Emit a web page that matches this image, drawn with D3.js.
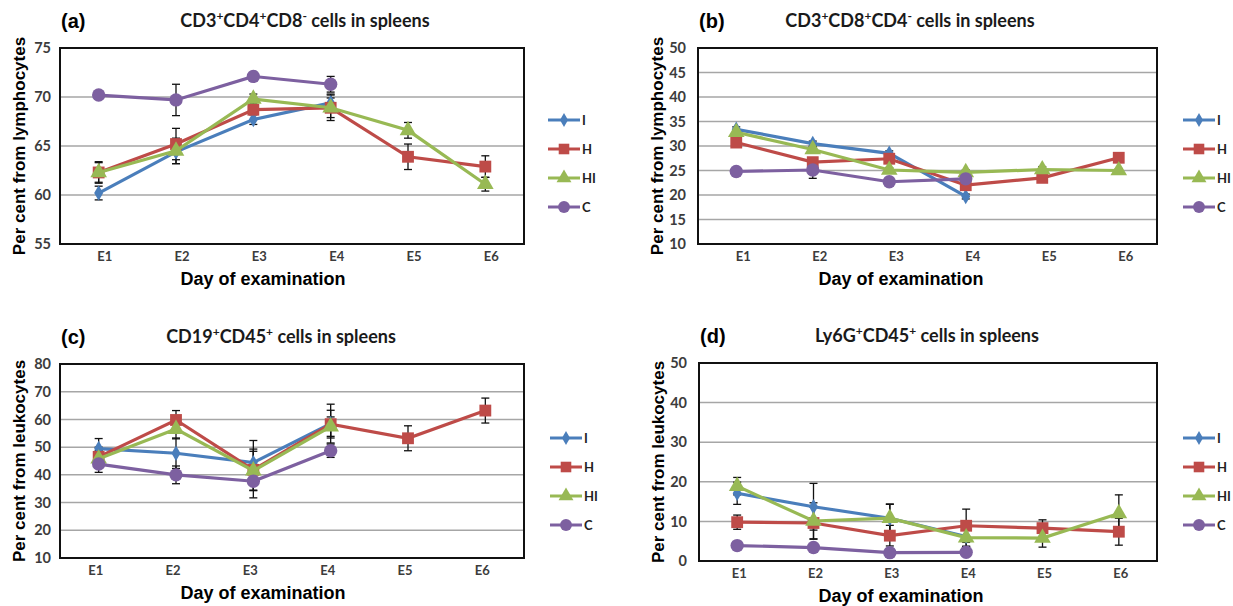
<!DOCTYPE html>
<html>
<head>
<meta charset="utf-8">
<script src="https://cdn.jsdelivr.net/npm/d3@7"></script>
<style>
  body { margin: 0; background: #fff; }
  svg { display: block; }
  .tick text { font-family: Lato, "Open Sans", sans-serif; font-weight: bold; fill: #3c3c3c; }
</style>
</head>
<body>
<svg id="chart" width="1233" height="606"></svg>
<script>
const days = ["E1", "E2", "E3", "E4", "E5", "E6"];
const groups = ["I", "H", "HI", "C"];

// (a) CD3+CD4+CD8- cells
const cd4Ticks = [55, 60, 65, 70, 75];
const cd4I = [60.2, 64.4, 67.7, 69.4];
const cd4H = [62.3, 65.2, 68.7, 68.9, 63.9, 62.9];
const cd4HI = [62.3, 64.5, 69.8, 68.9, 66.6, 61.1];
const cd4C = [70.2, 69.7, 72.1, 71.3];
const cd4ErrI = [0.7, 1.2, 0.5, 0.9];
const cd4ErrH = [1.1, 1.6, 0.5, 1.3, 1.3, 1.1];
const cd4ErrHI = [1.0, 1.3, 0.5, 1.0, 0.8, 0.7];
const cd4ErrC = [0.3, 1.6, 0.4, 0.8];

// (b) CD3+CD8+CD4- cells
const cd8Ticks = [10, 15, 20, 25, 30, 35, 40, 45, 50];
const cd8I = [33.4, 30.5, 28.5, 19.7];
const cd8H = [30.7, 26.7, 27.4, 22.0, 23.5, 27.6];
const cd8HI = [32.8, 29.3, 25.1, 24.6, 25.2, 25.0];
const cd8C = [24.8, 25.1, 22.7, 23.3];
const cd8ErrI = [0.5, 0.5, 0.5, 0.5];
const cd8ErrH = [0.6, 0.8, 0.6, 0.8, 0.7, 0.4];
const cd8ErrHI = [0.5, 0.6, 0.5, 0.5, 0.6, 0.4];
const cd8ErrC = [0.4, 1.7, 0.4, 0.6];

// (c) CD19+CD45+ cells
const cd19Ticks = [10, 20, 30, 40, 50, 60, 70, 80];
const cd19I = [49.5, 47.8, 44.4, 58.5];
const cd19H = [46.5, 59.8, 41.8, 58.3, 53.2, 63.2];
const cd19HI = [45.8, 56.5, 41.5, 57.4];
const cd19C = [43.9, 40.0, 37.7, 48.7];
const cd19ErrI = [3.6, 5.5, 8.0, 7.0];
const cd19ErrH = [3.5, 3.4, 7.5, 5.0, 4.5, 4.5];
const cd19ErrHI = [3.0, 3.5, 7.0, 3.5];
const cd19ErrC = [3.0, 3.2, 6.0, 2.4];

// (d) Ly6G+CD45+ cells
const ly6Ticks = [0, 10, 20, 30, 40, 50];
const ly6I = [17.1, 13.7, 10.8, 6.2];
const ly6H = [9.8, 9.6, 6.4, 8.9, 8.3, 7.4];
const ly6HI = [18.9, 10.1, 10.8, 5.9, 5.8, 12.0];
const ly6C = [3.9, 3.4, 2.1, 2.2];
const ly6ErrI = [2.8, 5.9, 3.6, 2.5];
const ly6ErrH = [1.8, 4.0, 2.6, 4.2, 2.1, 3.4];
const ly6ErrHI = [2.2, 4.6, 3.5, 2.2, 2.3, 4.7];
const ly6ErrC = [0.6, 0.6, 0.5, 0.5];

const colors = { I: "#4a7ebb", H: "#be4b48", HI: "#98b954", C: "#7d60a0" };
const shapes = { I: d3.symbolDiamond, H: d3.symbolSquare, HI: d3.symbolTriangle, C: d3.symbolCircle };
const sizes = { I: 70, H: 140, HI: 120, C: 140 };

const svg = d3.select("#chart");

function drawPanel(p) {
  var g = svg.append("g");
  var x = d3.scaleBand().domain(days).range([p.left, p.right]);
  var y = d3.scaleLinear().domain(d3.extent(p.ticks)).range([p.bottom, p.top]);
  var cx = function (i) { return x(days[i]) + x.bandwidth() / 2; };

  // gridlines
  g.append("g")
    .selectAll("line")
    .data(p.ticks)
    .join("line")
    .attr("x1", p.left)
    .attr("x2", p.right)
    .attr("y1", function (d) { return y(d); })
    .attr("y2", function (d) { return y(d); })
    .attr("stroke", "#a6a6a6")
    .attr("stroke-width", 1.5);

  // axes (labels only)
  var yAxis = g.append("g")
    .attr("transform", "translate(" + p.left + ",0)")
    .call(d3.axisLeft(y).tickValues(p.ticks).tickSize(0).tickPadding(p.yPad));
  yAxis.select(".domain").remove();
  yAxis.selectAll("text").attr("font-size", 14.5);

  var xAxis = g.append("g")
    .attr("transform", "translate(0," + p.bottom + ")")
    .call(d3.axisBottom(x).tickSize(0).tickPadding(8));
  xAxis.select(".domain").remove();
  xAxis.selectAll("text").attr("font-size", 13).attr("dx", p.labelDx);

  // frame
  g.append("rect")
    .attr("x", p.left)
    .attr("y", p.top)
    .attr("width", p.right - p.left)
    .attr("height", p.bottom - p.top)
    .attr("fill", "none")
    .attr("stroke", "#111")
    .attr("stroke-width", 2);

  // error bars
  groups.forEach(function (k) {
    var vals = p.series[k], errs = p.errors[k];
    var eg = g.append("g").attr("stroke", "#111").attr("stroke-width", 1.3);
    vals.forEach(function (v, i) {
      var e = errs[i];
      eg.append("line").attr("x1", cx(i)).attr("x2", cx(i)).attr("y1", y(v - e)).attr("y2", y(v + e));
      [v - e, v + e].forEach(function (c) {
        eg.append("line").attr("x1", cx(i) - 4).attr("x2", cx(i) + 4).attr("y1", y(c)).attr("y2", y(c));
      });
    });
  });

  // lines and markers
  groups.forEach(function (k) {
    var vals = p.series[k];
    var line = d3.line()
      .x(function (d, i) { return cx(i); })
      .y(function (d) { return y(d); });
    g.append("path")
      .datum(vals)
      .attr("d", line)
      .attr("fill", "none")
      .attr("stroke", colors[k])
      .attr("stroke-width", 3.2);
    g.append("g")
      .selectAll("path")
      .data(vals)
      .join("path")
      .attr("d", d3.symbol().type(shapes[k]).size(sizes[k]))
      .attr("transform", function (d, i) { return "translate(" + cx(i) + "," + y(d) + ")"; })
      .attr("fill", colors[k]);
  });

  // panel letter
  g.append("text")
    .attr("x", p.left + 1)
    .attr("y", p.top - 20)
    .attr("font-family", "Liberation Sans, Arial, sans-serif")
    .attr("font-weight", "bold")
    .attr("font-size", 20)
    .text(p.letter);

  // title with superscripts
  var t = g.append("text")
    .attr("x", p.titleX)
    .attr("y", p.top - 21)
    .attr("text-anchor", "middle")
    .attr("font-family", "Lato, sans-serif")
    .attr("font-weight", "bold")
    .attr("font-size", 18)
    .attr("fill", "#1a1a1a");
  p.title.forEach(function (part) {
    var s = t.append("tspan").text(part[0]);
    if (part[1]) {
      s.attr("font-size", 12).attr("baseline-shift", "super");
    }
  });

  // axis titles
  g.append("text")
    .attr("transform", "translate(" + (p.left - 35) + "," + ((p.top + p.bottom) / 2) + ") rotate(-90)")
    .attr("text-anchor", "middle")
    .attr("font-family", "Liberation Sans, Arial, sans-serif")
    .attr("font-weight", "bold")
    .attr("font-size", 17)
    .text(p.yLabel);
  g.append("text")
    .attr("x", p.xLabelX)
    .attr("y", p.bottom + 41)
    .attr("text-anchor", "middle")
    .attr("font-family", "Liberation Sans, Arial, sans-serif")
    .attr("font-weight", "bold")
    .attr("font-size", 18)
    .text("Day of examination");

  // legend
  var lg = g.append("g").attr("transform", "translate(" + p.legendX + "," + p.legendY + ")");
  groups.forEach(function (k, i) {
    var row = lg.append("g").attr("transform", "translate(0," + i * 29 + ")");
    row.append("line").attr("x1", 0).attr("x2", 32).attr("stroke", colors[k]).attr("stroke-width", 3);
    row.append("path")
      .attr("d", d3.symbol().type(shapes[k]).size(sizes[k] * 0.8))
      .attr("transform", "translate(16,0)")
      .attr("fill", colors[k]);
    row.append("text")
      .attr("x", 34)
      .attr("dy", "0.35em")
      .attr("font-family", "Lato, sans-serif")
      .attr("font-weight", "bold")
      .attr("font-size", 13)
      .attr("fill", "#222")
      .text(k);
  });
}

drawPanel({
  left: 60, right: 524, top: 48, bottom: 244, ticks: cd4Ticks, yPad: 9, labelDx: 6,
  series: { I: cd4I, H: cd4H, HI: cd4HI, C: cd4C },
  errors: { I: cd4ErrI, H: cd4ErrH, HI: cd4ErrHI, C: cd4ErrC },
  letter: "(a)", titleX: 305,
  title: [["CD3"], ["+", 1], ["CD4"], ["+", 1], ["CD8"], ["-", 1], [" cells in spleens"]],
  yLabel: "Per cent from lymphocytes", xLabelX: 263, legendX: 548, legendY: 120
});

drawPanel({
  left: 698, right: 1157, top: 48, bottom: 244, ticks: cd8Ticks, yPad: 12, labelDx: 7,
  series: { I: cd8I, H: cd8H, HI: cd8HI, C: cd8C },
  errors: { I: cd8ErrI, H: cd8ErrH, HI: cd8ErrHI, C: cd8ErrC },
  letter: "(b)", titleX: 910,
  title: [["CD3"], ["+", 1], ["CD8"], ["+", 1], ["CD4"], ["-", 1], [" cells in spleens"]],
  yLabel: "Per cent from lymphocytes", xLabelX: 901, legendX: 1183, legendY: 120
});

drawPanel({
  left: 60, right: 524, top: 364, bottom: 558, ticks: cd19Ticks, yPad: 9, labelDx: -3,
  series: { I: cd19I, H: cd19H, HI: cd19HI, C: cd19C },
  errors: { I: cd19ErrI, H: cd19ErrH, HI: cd19ErrHI, C: cd19ErrC },
  letter: "(c)", titleX: 281,
  title: [["CD19"], ["+", 1], ["CD45"], ["+", 1], [" cells in spleens"]],
  yLabel: "Per cent from leukocytes", xLabelX: 263, legendX: 550, legendY: 438
});

drawPanel({
  left: 699, right: 1157, top: 363, bottom: 561, ticks: ly6Ticks, yPad: 12, labelDx: 2,
  series: { I: ly6I, H: ly6H, HI: ly6HI, C: ly6C },
  errors: { I: ly6ErrI, H: ly6ErrH, HI: ly6ErrHI, C: ly6ErrC },
  letter: "(d)", titleX: 927,
  title: [["Ly6G"], ["+", 1], ["CD45"], ["+", 1], [" cells in spleens"]],
  yLabel: "Per cent from leukocytes", xLabelX: 901, legendX: 1183, legendY: 438
});
</script>
</body>
</html>
